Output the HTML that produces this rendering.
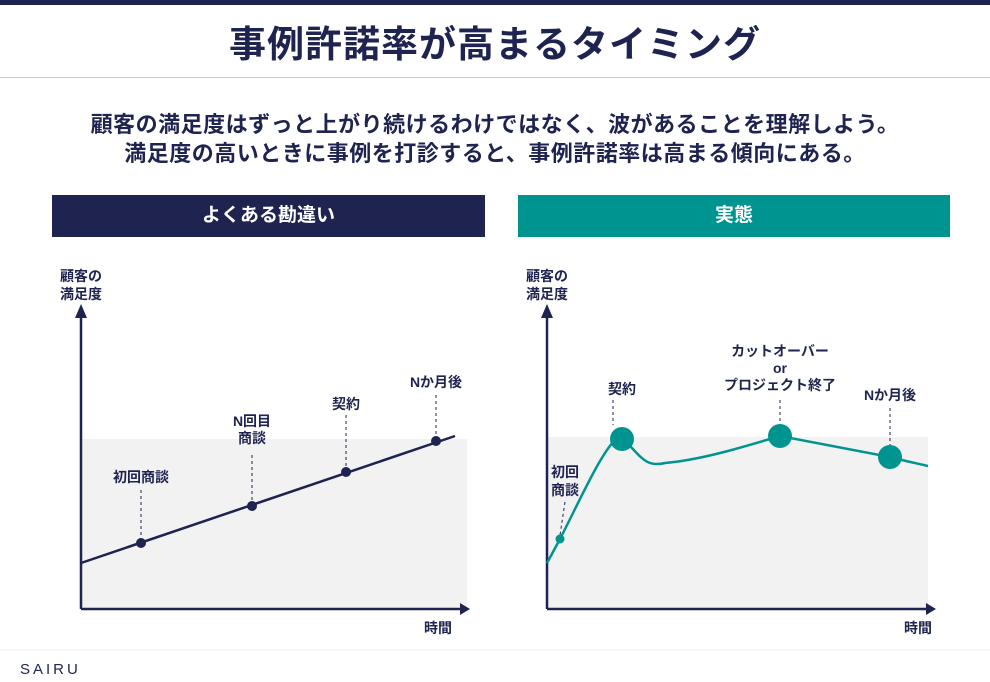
<!DOCTYPE html>
<html><head><meta charset="utf-8"><style>
body{margin:0;width:990px;height:682px;background:#fff;position:relative;overflow:hidden;font-family:"Liberation Sans","Noto Sans CJK JP",sans-serif;color:#1e2350}
.a{position:absolute}
</style></head><body>
<div class="a" style="left:0;top:0;width:990px;height:5px;background:#1e2350"></div>
<div class="a" style="left:0;top:20px;width:990px;text-align:center;font-size:37px;font-weight:bold;line-height:50px;letter-spacing:1px">事例許諾率が高まるタイミング</div>
<div class="a" style="left:0;top:77px;width:990px;height:1px;background:#ccc"></div>
<div class="a" style="left:0;top:110px;width:990px;text-align:center;font-size:22px;font-weight:bold;line-height:29px;letter-spacing:0.5px">顧客の満足度はずっと上がり続けるわけではなく、波があることを理解しよう。<br>満足度の高いときに事例を打診すると、事例許諾率は高まる傾向にある。</div>
<div class="a" style="left:52px;top:195px;width:433px;height:42px;background:#1e2350;color:#fff;text-align:center;line-height:42px;font-size:19px;font-weight:bold">よくある勘違い</div>
<div class="a" style="left:518px;top:195px;width:432px;height:42px;background:#009490;color:#fff;text-align:center;line-height:42px;font-size:19px;font-weight:bold">実態</div>
<svg class="a" style="left:0;top:0" width="990" height="682" font-family="Liberation Sans, Noto Sans CJK JP, sans-serif" font-weight="bold" font-size="14" fill="#1e2350">
<rect x="81" y="439" width="386" height="170" fill="#f2f2f2"/>
<rect x="547" y="437" width="381" height="172" fill="#f2f2f2"/>
<g stroke="#1e2350" stroke-width="2.5" fill="none">
<path d="M81 609V312M81 609H460"/><path d="M547 609V312M547 609H926"/>
</g>
<path d="M75 318L81 304L87 318Z M460 603L470 609L460 615Z M541 318L547 304L553 318Z M926 603L936 609L926 615Z" fill="#1e2350"/>
<text x="60" y="281">顧客の</text><text x="60" y="299">満足度</text>
<text x="526" y="281">顧客の</text><text x="526" y="299">満足度</text>
<text x="438" y="633" text-anchor="middle">時間</text><text x="918" y="633" text-anchor="middle">時間</text>
<g stroke="#1e2350" stroke-width="1" stroke-dasharray="3,3">
<path d="M141 490V543M252 455V506M346 415V472M436 395V441M613 400V425M780 400V425M890 408V445M565 502L560 535"/>
</g>
<line x1="81" y1="563" x2="455" y2="436" stroke="#1e2350" stroke-width="2.5"/>
<g fill="#1e2350"><circle cx="141" cy="543" r="5"/><circle cx="252" cy="506" r="5"/><circle cx="346" cy="472" r="5"/><circle cx="436" cy="441" r="5"/></g>
<g text-anchor="middle">
<text x="141" y="482">初回商談</text><text x="252" y="426">N回目</text><text x="252" y="443">商談</text>
<text x="346" y="409">契約</text><text x="436" y="387">Nか月後</text>
<text x="565" y="477">初回</text><text x="565" y="495">商談</text><text x="622" y="394">契約</text>
<text x="780" y="356">カットオーバー</text><text x="780" y="373">or</text><text x="780" y="390">プロジェクト終了</text>
<text x="890" y="400">Nか月後</text>
</g>
<path d="M547 563L560 539C580 500 600 455 615 440L625 441C640 455 645 468 665 463C700 460 740 448 780 436L890 457C905 461 915 463 928 466" stroke="#009490" stroke-width="2.5" fill="none"/>
<g fill="#009490"><circle cx="560" cy="539" r="4.5"/><circle cx="622" cy="439" r="12"/><circle cx="780" cy="436" r="12"/><circle cx="890" cy="457" r="12"/></g>
<line x1="0" y1="650" x2="990" y2="650" stroke="#eee"/>
<text x="20" y="674" font-size="15" letter-spacing="3" font-weight="normal">SAIRU</text>
</svg>
</body></html>
